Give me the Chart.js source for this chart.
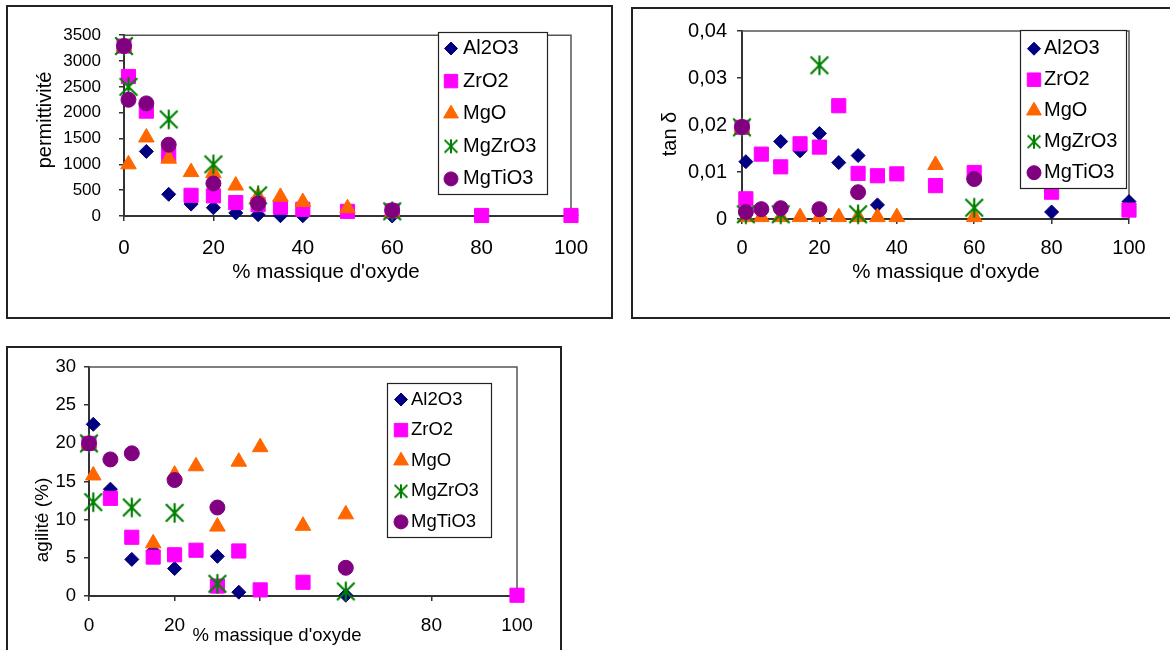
<!DOCTYPE html>
<html lang="fr">
<head>
<meta charset="utf-8">
<title>Permittivité, pertes et agilité</title>
<script src="https://cdn.jsdelivr.net/npm/chart.js@4.4.1/dist/chart.umd.min.js"></script>
<style>
  html, body { margin: 0; padding: 0; background: #fff; width: 1170px; height: 650px; overflow: hidden; }
  .frame { position: absolute; border: 2px solid #222; background: #fff; overflow: hidden; }
  .frame canvas { display: block; }
</style>
</head>
<body>
<div class="frame" style="left:6px; top:5px; width:603px; height:310px;"><canvas id="chart-perm" width="603" height="310"></canvas></div>
<div class="frame" style="left:631px; top:7px; width:540px; height:308px;"><canvas id="chart-tan" width="540" height="308"></canvas></div>
<div class="frame" style="left:6px; top:346px; width:552px; height:310px;"><canvas id="chart-agil" width="552" height="310"></canvas></div>

<script>
// ── Data ─────────────────────────────────────────────────
const seriesNames = ['Al2O3', 'ZrO2', 'MgO', 'MgZrO3', 'MgTiO3'];
const pctTicks = [0, 20, 40, 60, 80, 100];

// permittivité vs % massique d'oxyde
const permTicks = [0, 500, 1000, 1500, 2000, 2500, 3000, 3500];
const permAl2O3 = [[0, 3290], [1, 2700], [5, 1250], [10, 420], [15, 230], [20, 160], [25, 60], [30, 25], [35, 5], [40, 5], [60, 0], [80, 10], [100, 10]];
const permZrO2 = [[0, 3290], [1, 2700], [5, 2030], [10, 1180], [15, 400], [20, 390], [25, 260], [30, 220], [35, 170], [40, 130], [50, 90], [60, 100], [80, 10], [100, 10]];
const permMgO = [[0, 3290], [1, 1000], [5, 1520], [10, 1110], [15, 850], [20, 830], [25, 590], [30, 380], [35, 370], [40, 270], [50, 150], [60, 60]];
const permMgZrO3 = [[0, 3290], [1, 2500], [10, 1870], [20, 1000], [30, 400], [60, 90]];
const permMgTiO3 = [[0, 3290], [1, 2250], [5, 2180], [10, 1380], [20, 630], [30, 240], [60, 110]];

// tan δ vs % massique d'oxyde
const tanTicks = [0, 0.01, 0.02, 0.03, 0.04];
const tanAl2O3 = [[0, 0.0195], [1, 0.0122], [10, 0.0165], [15, 0.0145], [20, 0.0182], [25, 0.0120], [30, 0.0135], [35, 0.0030], [80, 0.0015], [100, 0.0037]];
const tanZrO2 = [[0, 0.0195], [1, 0.0043], [5, 0.0138], [10, 0.0111], [15, 0.0160], [20, 0.0153], [25, 0.0241], [30, 0.0097], [35, 0.0092], [40, 0.0096], [50, 0.0071], [60, 0.0099], [80, 0.0057], [100, 0.0019]];
const tanMgO = [[0, 0.0195], [1, 0.0004], [5, 0.0004], [10, 0.0004], [15, 0.0004], [20, 0.0004], [25, 0.0004], [30, 0.0004], [35, 0.0004], [40, 0.0004], [50, 0.0115], [60, 0.0004]];
const tanMgZrO3 = [[0, 0.0195], [1, 0.0010], [10, 0.0010], [20, 0.0327], [30, 0.0010], [60, 0.0024]];
const tanMgTiO3 = [[0, 0.0196], [1, 0.0015], [5, 0.0021], [10, 0.0023], [20, 0.0021], [30, 0.0057], [60, 0.0085]];

// agilité (%) vs % massique d'oxyde
const agilTicks = [0, 5, 10, 15, 20, 25, 30];
const agilAl2O3 = [[0, 20], [1, 22.5], [5, 14.0], [10, 4.8], [15, 5.9], [20, 3.6], [30, 5.2], [35, 0.5], [60, 0.1]];
const agilZrO2 = [[0, 20], [5, 12.8], [10, 7.7], [15, 5.1], [20, 5.4], [25, 6.0], [30, 1.3], [35, 5.9], [40, 0.8], [50, 1.8], [100, 0.1]];
const agilMgO = [[0, 20], [1, 15.8], [15, 6.9], [20, 15.9], [25, 17.0], [30, 9.1], [35, 17.6], [40, 19.5], [50, 9.2], [60, 10.7]];
const agilMgZrO3 = [[0, 20], [1, 12.3], [10, 11.6], [20, 10.9], [30, 1.6], [60, 0.6]];
const agilMgTiO3 = [[0, 20], [5, 17.9], [10, 18.7], [20, 15.2], [30, 11.6], [60, 3.7]];

// ── Look ─────────────────────────────────────────────────
const FONT = '"Liberation Sans", Arial, sans-serif';
const seriesColors = ['#000080', '#ff00ff', '#ff6600', '#008000', '#800080'];

// Excel style asterisk: an X plus a vertical stroke
function asterisk(size, lw) {
    const c = document.createElement('canvas');
    c.width = size; c.height = size;
    const g = c.getContext('2d');
    const m = size / 2, d = size * 0.4, a = size * 0.44;
    g.strokeStyle = '#008000';
    g.lineWidth = lw;
    g.beginPath();
    g.moveTo(m - d, m - d); g.lineTo(m + d, m + d);
    g.moveTo(m + d, m - d); g.lineTo(m - d, m + d);
    g.moveTo(m, m - a); g.lineTo(m, m + a);
    g.stroke();
    return c;
}
const starBig = asterisk(22, 2.2);
const starSmall = asterisk(16, 2);
const markerStyles = ['rectRot', 'rect', 'triangle', starBig, 'circle'];
const legendStyles = ['rectRot', 'rect', 'triangle', starSmall, 'circle'];
const markerRadii = [7, 10, 9, 11, 7.5];
const legendRadii = [6.5, 9.5, 8.5, 8, 7];

// top and right edges of the plot area
const plotFrame = {
    id: 'plotFrame',
    beforeDatasetsDraw(chart) {
        const { ctx, chartArea: a } = chart;
        ctx.save();
        ctx.strokeStyle = '#555';
        ctx.lineWidth = 1.5;
        ctx.beginPath();
        ctx.moveTo(a.left, a.top);
        ctx.lineTo(a.right, a.top);
        ctx.lineTo(a.right, a.bottom);
        ctx.stroke();
        ctx.restore();
    },
};

function boxLegend(frame, lg) {
    return {
        id: 'boxLegend',
        afterDraw(chart) {
            const ctx = chart.ctx;
            ctx.save();
            ctx.translate(-frame.x, -frame.y);
            ctx.fillStyle = '#fff';
            ctx.fillRect(lg.box[0], lg.box[1], lg.box[2] - lg.box[0], lg.box[3] - lg.box[1]);
            ctx.strokeStyle = '#222';
            ctx.lineWidth = 1.2;
            ctx.strokeRect(lg.box[0] + 0.5, lg.box[1] + 0.5, lg.box[2] - lg.box[0], lg.box[3] - lg.box[1]);
            chart.data.datasets.forEach((ds, i) => {
                const y = lg.row0 + i * lg.gap;
                ctx.fillStyle = seriesColors[i];
                ctx.strokeStyle = seriesColors[i];
                ctx.lineWidth = 1;
                Chart.helpers.drawPoint(ctx, { pointStyle: legendStyles[i], radius: legendRadii[i], rotation: 0, borderWidth: i === 3 ? 0 : 1 }, lg.markX, y);
                ctx.fillStyle = '#000';
                ctx.font = `${lg.size}px ${FONT}`;
                ctx.textAlign = 'left';
                ctx.textBaseline = 'middle';
                ctx.fillText(ds.label, lg.textX, y);
            });
            ctx.restore();
        },
    };
}

function axisTitles(frame, items) {
    return {
        id: 'axisTitles',
        afterDraw(chart) {
            const ctx = chart.ctx;
            items.forEach(t => {
                ctx.save();
                ctx.translate(t.x - frame.x, t.y - frame.y);
                if (t.rotate) ctx.rotate(-Math.PI / 2);
                ctx.font = `${t.size}px ${FONT}`;
                ctx.textAlign = 'center';
                ctx.textBaseline = 'middle';
                if (t.bg) {
                    const w = ctx.measureText(t.text).width;
                    ctx.fillStyle = '#fff';
                    ctx.fillRect(-w / 2 - 3, -t.size * 1.1, w + 6, t.size * 1.8);
                }
                ctx.fillStyle = '#000';
                ctx.fillText(t.text, 0, 0);
                ctx.restore();
            });
        },
    };
}

// frame = canvas position/size on the page, plot = plot area edges on the page
function buildChart(id, frame, plot, series, yTicks, look) {
    return new Chart(document.getElementById(id), {
        type: 'scatter',
        data: {
            datasets: series.map((pts, i) => ({
                label: seriesNames[i],
                data: pts.map(([x, v]) => ({ x, y: v })),
                pointStyle: markerStyles[i],
                pointRadius: markerRadii[i],
                pointHoverRadius: markerRadii[i],
                backgroundColor: seriesColors[i],
                borderColor: seriesColors[i],
                borderWidth: i === 3 ? 0 : 1,
                clip: false,
                order: series.length - 1 - i,
            })),
        },
        options: {
            responsive: false,
            animation: false,
            events: [],
            layout: {
                padding: { left: 0, top: plot.t - frame.y, right: frame.x + frame.w - plot.r, bottom: 0 },
            },
            plugins: { legend: { display: false }, tooltip: { enabled: false } },
            scales: {
                x: {
                    type: 'linear', min: 0, max: 100,
                    afterFit: s => { s.height = frame.y + frame.h - plot.b; },
                    afterBuildTicks: s => { s.ticks = pctTicks.map(v => ({ value: v })); },
                    ticks: { color: '#000', font: { family: FONT, size: look.xSize }, padding: look.xPad, maxRotation: 0, autoSkip: false },
                    grid: { drawOnChartArea: false, tickLength: 5, color: '#333', lineWidth: 1.5 },
                    border: { color: '#333', width: 2 },
                },
                y: {
                    type: 'linear', min: 0, max: yTicks[yTicks.length - 1],
                    afterFit: s => { s.width = plot.l - frame.x; },
                    afterBuildTicks: s => { s.ticks = yTicks.map(v => ({ value: v })); },
                    ticks: { color: '#000', font: { family: FONT, size: look.ySize }, padding: look.yPad, autoSkip: false, callback: look.fmt },
                    grid: { drawOnChartArea: false, tickLength: 5, color: '#333', lineWidth: 1.5 },
                    border: { color: '#333', width: 2 },
                },
            },
        },
        plugins: [plotFrame, boxLegend(frame, look.legend), axisTitles(frame, look.titles)],
    });
}

// ── Permittivité ─────────────────────────────────────────
const framePerm = { x: 8, y: 7, w: 603, h: 310 };
buildChart('chart-perm', framePerm, { l: 124, t: 25, r: 571, b: 216 },
    [permAl2O3, permZrO2, permMgO, permMgZrO3, permMgTiO3], permTicks, {
        xSize: 20.5, xPad: 15, ySize: 17, yPad: 18,
        fmt: v => String(v),
        legend: { box: [438, 32, 547, 194], markX: 451, textX: 463, row0: 48.5, gap: 32.6, size: 20 },
        titles: [
            { text: 'permittivité', x: 45, y: 120, size: 20, rotate: true },
            { text: "% massique d'oxyde", x: 326, y: 272, size: 20.5 },
        ],
    });

// ── tan δ ────────────────────────────────────────────────
const frameTan = { x: 633, y: 9, w: 540, h: 308 };
buildChart('chart-tan', frameTan, { l: 742, t: 27, r: 1129, b: 219 },
    [tanAl2O3, tanZrO2, tanMgO, tanMgZrO3, tanMgTiO3], tanTicks, {
        xSize: 20, xPad: 12, ySize: 20, yPad: 10,
        fmt: v => v === 0 ? '0' : v.toFixed(2).replace('.', ','),
        legend: { box: [1020, 30, 1126, 188], markX: 1034, textX: 1044, row0: 48.7, gap: 31, size: 20 },
        titles: [
            { text: 'tan δ', x: 670, y: 134, size: 20, rotate: true },
            { text: "% massique d'oxyde", x: 946, y: 272, size: 20.5 },
        ],
    });

// ── Agilité ──────────────────────────────────────────────
const frameAgil = { x: 8, y: 348, w: 552, h: 310 };
buildChart('chart-agil', frameAgil, { l: 89, t: 363, r: 517, b: 596 },
    [agilAl2O3, agilZrO2, agilMgO, agilMgZrO3, agilMgTiO3], agilTicks, {
        xSize: 19, xPad: 13, ySize: 18.5, yPad: 8,
        fmt: v => String(v),
        legend: { box: [387, 383, 491, 537], markX: 401, textX: 411, row0: 399.5, gap: 30.6, size: 18.5 },
        titles: [
            { text: 'agilité (%)', x: 43, y: 520, size: 19, rotate: true },
            { text: "% massique d'oxyde", x: 277, y: 636, size: 18.5, bg: true },
        ],
    });
</script>
</body>
</html>
